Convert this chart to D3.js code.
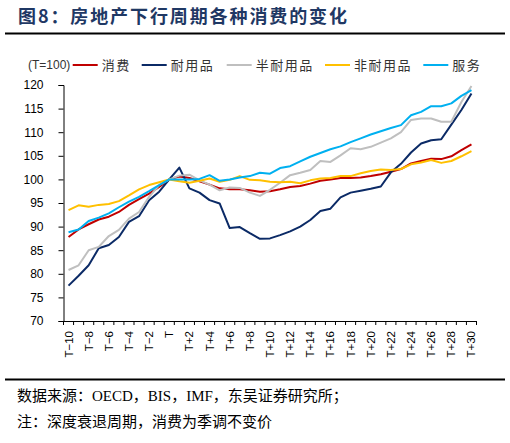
<!DOCTYPE html>
<html><head><meta charset="utf-8">
<script src="https://cdn.jsdelivr.net/npm/d3@7"></script>
<style>
html,body{margin:0;padding:0;background:#fff;}
svg{display:block;}
</style></head>
<body>
<script>
const categories = ["T−10","T−9","T−8","T−7","T−6","T−5","T−4","T−3","T−2","T−1","T",
 "T+1","T+2","T+3","T+4","T+5","T+6","T+7","T+8","T+9","T+10",
 "T+11","T+12","T+13","T+14","T+15","T+16","T+17","T+18","T+19","T+20",
 "T+21","T+22","T+23","T+24","T+25","T+26","T+27","T+28","T+29","T+30"];
const tickLabels = ["T−10","T−8","T−6","T−4","T−2","T","T+2","T+4","T+6","T+8","T+10","T+12","T+14","T+16","T+18","T+20","T+22","T+24","T+26","T+28","T+30"];
const yTicks = [70,75,80,85,90,95,100,105,110,115,120];
const seriesNames = ["消费","耐用品","半耐用品","非耐用品","服务"];
const seriesColors = ["#C00000","#0B2A66","#BFBFBF","#FFC000","#00B0F0"];

const consumption = [87.8,89.4,90.5,91.5,92.1,93.1,94.6,95.8,97.0,98.4,100,
 100.6,100.3,99.6,98.9,98.1,97.9,97.9,97.7,97.4,97.5,
 97.9,98.4,98.6,99.1,99.7,100.0,100.3,100.3,100.4,100.7,
 101.1,101.6,102.2,103.4,103.9,104.4,104.3,104.9,106.2,107.4];
const durables = [77.5,79.6,81.8,85.4,86.1,87.8,91.0,92.2,95.6,97.4,100,
 102.5,98.1,97.2,95.6,94.9,89.7,89.9,88.6,87.4,87.5,
 88.2,89.0,90.0,91.4,93.3,93.8,96.2,97.2,97.6,98.0,
 98.5,101.5,103.3,105.7,107.6,108.3,108.5,111.6,114.7,118.2];
const semiDurables = [80.8,81.8,85.0,85.7,88.0,89.3,91.7,93.1,96.3,98.8,100,
 100.8,101.0,99.8,98.9,97.7,98.3,98.2,97.2,96.5,97.8,
 99.3,100.9,101.4,102.0,103.9,103.7,105.1,106.6,106.4,106.9,
 107.8,108.7,110.0,112.6,112.9,112.9,112.2,112.2,116.4,119.8];
const nonDurables = [93.5,94.5,94.2,94.6,94.8,95.4,96.6,97.9,98.8,99.4,100,
 99.6,99.3,99.7,100.2,99.5,99.9,100.7,99.9,99.8,99.5,
 99.4,99.5,99.2,99.8,100.2,100.3,100.7,100.7,101.3,101.8,
 102.1,102.0,102.2,103.2,103.6,104.1,103.5,103.9,104.9,106.0];
const services = [88.8,89.4,91.2,91.9,92.8,94.1,95.3,96.3,97.5,98.8,100,
 100,100,100.1,100.9,99.7,100,100.4,100.7,101.4,101.2,
 102.4,102.8,103.8,104.8,105.6,106.4,107.0,107.9,108.7,109.5,
 110.2,110.9,111.5,113.6,114.3,115.5,115.5,116.1,117.7,118.9];
const seriesValues = [consumption, durables, semiDurables, nonDurables, services];

const W = 510, H = 443;
const svg = d3.select("body").append("svg").attr("width", W).attr("height", H);

// Title
svg.append("text").attr("x", 18).attr("y", 23)
  .attr("font-family", "'Noto Sans CJK SC', sans-serif").attr("font-weight", "bold")
  .attr("font-size", 18).attr("fill", "#1F3864")
  .attr("textLength", 329).attr("lengthAdjust", "spacing")
  .text("图8：房地产下行周期各种消费的变化");
svg.append("line").attr("x1", 5).attr("x2", 505).attr("y1", 33.5).attr("y2", 33.5)
  .attr("stroke", "#000").attr("stroke-width", 2);

// Scales
const x = d3.scaleBand().domain(categories).range([63.5, 476.5]).padding(0);
const y = d3.scaleLinear().domain([70, 120]).range([321, 85]);

// Legend
const leg = svg.append("g").attr("font-family", "'Noto Sans CJK SC', sans-serif");
svg.append("text").attr("x", 28).attr("y", 69).attr("font-family", "Arial, 'Liberation Sans', sans-serif")
  .attr("font-size", 12).attr("fill", "#333").text("(T=100)");
const legX = [72.7, 141.7, 226.7, 325, 423.3];
seriesNames.forEach((n, i) => {
  leg.append("line").attr("x1", legX[i]).attr("x2", legX[i] + 25).attr("y1", 65).attr("y2", 65)
    .attr("stroke", seriesColors[i]).attr("stroke-width", 2);
  leg.append("text").attr("x", legX[i] + 29).attr("y", 69.5).attr("font-size", 13)
    .attr("fill", "#333").attr("letter-spacing", 1.5).text(n);
});

// Y axis
const yAxis = svg.append("g").attr("transform", "translate(63.5,0)")
  .call(d3.axisLeft(y).tickValues(yTicks).tickSize(5).tickPadding(15).tickFormat(d3.format("d")));
yAxis.select(".domain").attr("stroke", "#000");
yAxis.selectAll(".tick line").attr("stroke", "#000");
yAxis.selectAll("text").attr("font-family", "Arial, 'Liberation Sans', sans-serif").attr("font-size", 12).attr("fill", "#000");

// X axis
const xAxis = svg.append("g").attr("transform", "translate(0,321)")
  .call(d3.axisBottom(x).tickValues(tickLabels).tickSize(0).tickSizeOuter(0));
xAxis.select(".domain").attr("stroke", "#000");
xAxis.selectAll("text")
  .attr("font-family", "Arial, 'Liberation Sans', sans-serif").attr("font-size", 11.5).attr("fill", "#000")
  .attr("transform", "rotate(-90)").attr("x", -10).attr("y", 0).attr("dy", "0.35em")
  .attr("text-anchor", "end");
const bounds = categories.map(c => x(c)).concat([x(categories[categories.length - 1]) + x.bandwidth()]);
xAxis.selectAll(".btick").data(bounds).enter().append("line")
  .attr("x1", d => d).attr("x2", d => d).attr("y1", 0).attr("y2", 4).attr("stroke", "#000");

// Lines
const line = d3.line().x((d, i) => x(categories[i]) + x.bandwidth() / 2).y(d => y(d));
seriesValues.forEach((vals, i) => {
  svg.append("path").datum(vals).attr("d", line).attr("fill", "none")
    .attr("stroke", seriesColors[i]).attr("stroke-width", 2).attr("stroke-linejoin", "round");
});

// Footer
svg.append("line").attr("x1", 5).attr("x2", 505).attr("y1", 379.5).attr("y2", 379.5)
  .attr("stroke", "#000").attr("stroke-width", 2);
const foot = svg.append("g").attr("font-family", "'Liberation Serif', 'Noto Sans CJK SC', serif")
  .attr("font-size", 15).attr("fill", "#000");
foot.append("text").attr("x", 17).attr("y", 401).text("数据来源：OECD，BIS，IMF，东吴证券研究所；");
foot.append("text").attr("x", 17).attr("y", 427).text("注：深度衰退周期，消费为季调不变价");
</script>
</body></html>
